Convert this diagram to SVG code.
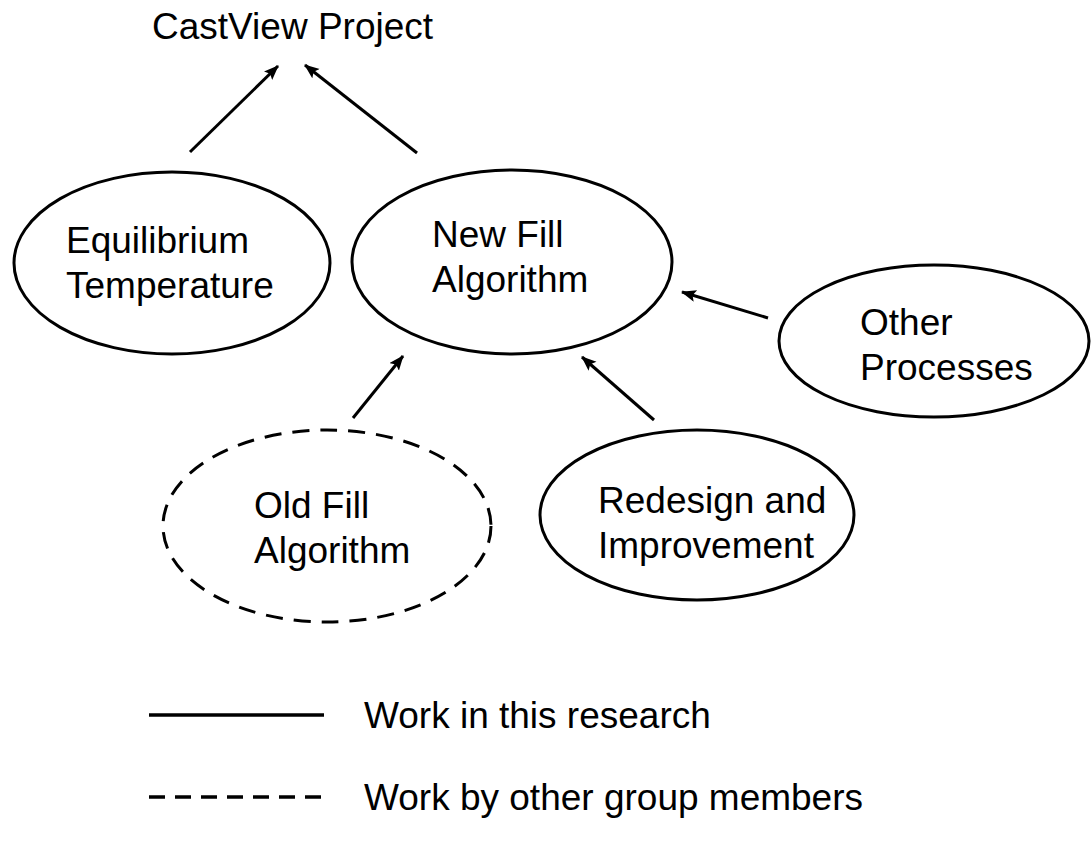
<svg xmlns="http://www.w3.org/2000/svg" width="1092" height="841" viewBox="0 0 1092 841">
  <style>
    .node { fill: #ffffff; stroke: #000000; stroke-width: 3; }
    .dashed { stroke-dasharray: 17 11; }
    .label { font-family: "Liberation Sans", Arial, sans-serif; font-size: 37px; fill: #000000; }
    .edge { stroke: #000000; stroke-width: 3; fill: none; marker-end: url(#arrow); }
    .key { stroke: #000000; stroke-width: 3.5; }
  </style>
  <defs>
    <marker id="arrow" markerUnits="userSpaceOnUse" markerWidth="16" markerHeight="14" refX="14" refY="6" orient="auto">
      <path d="M0,0 L15,6 L0,12 L3,6 Z" fill="#000000"/>
    </marker>
  </defs>
  <rect width="1092" height="841" fill="#ffffff"/>

  <g id="castview">
    <text class="label" x="152" y="39">CastView Project</text>
  </g>

  <g id="connectors">
    <line class="edge" x1="190" y1="152" x2="278" y2="66"/>
    <line class="edge" x1="417" y1="153" x2="305" y2="65"/>
    <line class="edge" x1="768" y1="318" x2="682" y2="292"/>
    <line class="edge" x1="353" y1="418" x2="403" y2="356"/>
    <line class="edge" x1="654" y1="420" x2="582" y2="357"/>
  </g>

  <g id="equilibrium">
    <ellipse class="node" cx="172" cy="263" rx="158" ry="91"/>
    <text class="label" x="66" y="253">Equilibrium</text>
    <text class="label" x="66" y="298">Temperature</text>
  </g>

  <g id="newfill">
    <ellipse class="node" cx="512" cy="262" rx="160" ry="92"/>
    <text class="label" x="432" y="247">New Fill</text>
    <text class="label" x="432" y="292">Algorithm</text>
  </g>

  <g id="other">
    <ellipse class="node" cx="934" cy="341" rx="155" ry="76"/>
    <text class="label" x="860" y="335">Other</text>
    <text class="label" x="860" y="380">Processes</text>
  </g>

  <g id="oldfill">
    <ellipse class="node dashed" cx="327" cy="526" rx="164" ry="96"/>
    <text class="label" x="254" y="518">Old Fill</text>
    <text class="label" x="254" y="563">Algorithm</text>
  </g>

  <g id="redesign">
    <ellipse class="node" cx="697" cy="515" rx="157" ry="85"/>
    <text class="label" x="598" y="513">Redesign and</text>
    <text class="label" x="598" y="558">Improvement</text>
  </g>

  <g id="legend">
    <line class="key" x1="149" y1="715" x2="324" y2="715"/>
    <text class="label" x="364" y="728">Work in this research</text>
    <line class="key" x1="149" y1="797" x2="324" y2="797" stroke-dasharray="16 10"/>
    <text class="label" x="364" y="810">Work by other group members</text>
  </g>
</svg>
